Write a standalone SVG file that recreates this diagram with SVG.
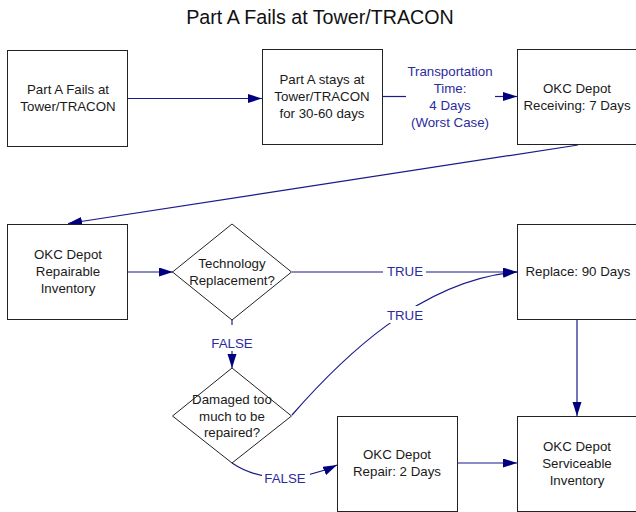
<svg xmlns="http://www.w3.org/2000/svg" width="636" height="512" viewBox="0 0 636 512">
  <style>
    .box { fill: #ffffff; stroke: #222222; stroke-width: 1; }
    .txt { font-family: "Liberation Sans", Arial, sans-serif; font-size: 13.3px; fill: #1a1a1a; text-anchor: middle; }
    .lbl { font-family: "Liberation Sans", Arial, sans-serif; font-size: 13.3px; fill: #2b2b9e; text-anchor: middle; }
    .title { font-family: "Liberation Sans", Arial, sans-serif; font-size: 19.7px; fill: #111111; text-anchor: middle; }
    .edge { fill: none; stroke: #1a1a8c; stroke-width: 1.2; }
    .bg { fill: #ffffff; stroke: none; }
  </style>
  <defs>
    <marker id="arrow" markerUnits="userSpaceOnUse" markerWidth="15" markerHeight="10" refX="14" refY="4.5" orient="auto">
      <path d="M0,0 L14,4.5 L0,9 z" fill="#00007f"/>
    </marker>
  </defs>
  <rect width="636" height="512" fill="#ffffff"/>

  <text class="title" x="320" y="23.5">Part A Fails at Tower/TRACON</text>

  <!-- connectors -->
  <g id="connectors">
    <line class="edge" x1="128" y1="98.5" x2="262" y2="98.5" marker-end="url(#arrow)"/>
    <line class="edge" x1="382" y1="96.5" x2="406" y2="96.5"/>
    <line class="edge" x1="495" y1="96.5" x2="517" y2="96.5" marker-end="url(#arrow)"/>
    <line class="edge" x1="578" y1="145" x2="68" y2="223.5" marker-end="url(#arrow)"/>
    <line class="edge" x1="128" y1="272" x2="173" y2="272" marker-end="url(#arrow)"/>
    <line class="edge" x1="292" y1="272" x2="517" y2="272" marker-end="url(#arrow)"/>
    <path class="edge" d="M292,415 C340,360 420,280 517,272" marker-end="url(#arrow)"/>
    <line class="edge" x1="232" y1="320" x2="232" y2="368" marker-end="url(#arrow)"/>
    <path class="edge" d="M232,463 C260,482 300,482 337,465" marker-end="url(#arrow)"/>
    <line class="edge" x1="458" y1="463" x2="517" y2="463" marker-end="url(#arrow)"/>
    <line class="edge" x1="577" y1="319" x2="577" y2="416" marker-end="url(#arrow)"/>

    <!-- connector labels -->
    <text class="lbl" x="450" y="75.5">Transportation</text>
    <text class="lbl" x="450" y="92.5">Time:</text>
    <text class="lbl" x="450" y="109.5">4 Days</text>
    <text class="lbl" x="450" y="126.5">(Worst Case)</text>

    <rect class="bg" x="383" y="263" width="43" height="17"/>
    <text class="lbl" x="405" y="276">TRUE</text>

    <rect class="bg" x="383" y="306" width="43" height="17"/>
    <text class="lbl" x="405" y="320">TRUE</text>

    <rect class="bg" x="208" y="325" width="48" height="26"/>
    <text class="lbl" x="232" y="348">FALSE</text>

    <rect class="bg" x="262" y="469" width="48" height="18"/>
    <text class="lbl" x="285" y="483">FALSE</text>
  </g>

  <g id="fails">
    <rect class="box" x="7.5" y="50.5" width="120" height="96"/>
    <text class="txt" x="68" y="94">Part A Fails at</text>
    <text class="txt" x="68" y="111">Tower/TRACON</text>
  </g>

  <g id="stays">
    <rect class="box" x="262.5" y="49.5" width="120" height="95"/>
    <text class="txt" x="322" y="84">Part A stays at</text>
    <text class="txt" x="322" y="101">Tower/TRACON</text>
    <text class="txt" x="322" y="118">for 30-60 days</text>
  </g>

  <g id="receiving">
    <rect class="box" x="517.5" y="49.5" width="121" height="95"/>
    <text class="txt" x="577" y="92.5">OKC Depot</text>
    <text class="txt" x="577" y="109.5">Receiving: 7 Days</text>
  </g>

  <g id="repairable">
    <rect class="box" x="7.5" y="224.5" width="120" height="95"/>
    <text class="txt" x="68" y="259">OKC Depot</text>
    <text class="txt" x="68" y="276">Repairable</text>
    <text class="txt" x="68" y="293">Inventory</text>
  </g>

  <g id="tech-replacement">
    <polygon class="box" points="232,224 291.5,272 232,320 172.5,272"/>
    <text class="txt" x="232" y="268">Technology</text>
    <text class="txt" x="232" y="285">Replacement?</text>
  </g>

  <g id="replace">
    <rect class="box" x="517.5" y="224.5" width="121" height="95"/>
    <text class="txt" x="578" y="276">Replace: 90 Days</text>
  </g>

  <g id="damaged">
    <polygon class="box" points="232,368 291.5,416 232,463 172.5,416"/>
    <text class="txt" x="232" y="404">Damaged too</text>
    <text class="txt" x="232" y="421">much to be</text>
    <text class="txt" x="232" y="437">repaired?</text>
  </g>

  <g id="repair">
    <rect class="box" x="337.5" y="416.5" width="120" height="95"/>
    <text class="txt" x="397" y="459">OKC Depot</text>
    <text class="txt" x="397" y="476">Repair: 2 Days</text>
  </g>

  <g id="serviceable">
    <rect class="box" x="517.5" y="416.5" width="121" height="95"/>
    <text class="txt" x="577" y="451">OKC Depot</text>
    <text class="txt" x="577" y="468">Serviceable</text>
    <text class="txt" x="577" y="485">Inventory</text>
  </g>
</svg>
